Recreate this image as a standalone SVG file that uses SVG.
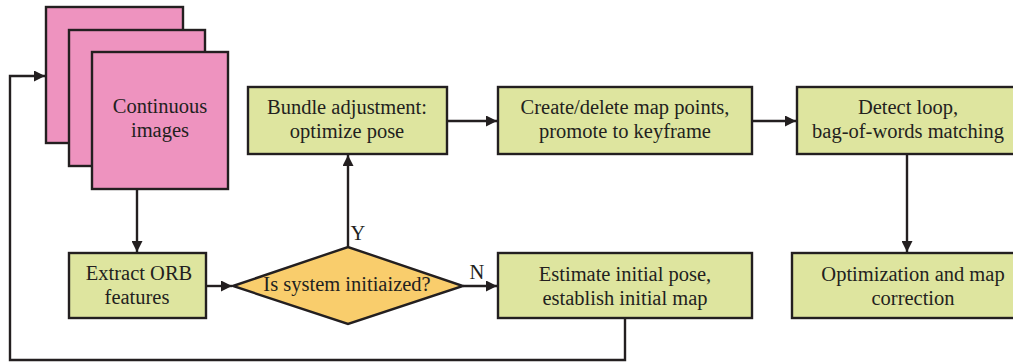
<svg xmlns="http://www.w3.org/2000/svg" width="1013" height="362" viewBox="0 0 1013 362">
<style>
.box{stroke:#231f20;stroke-width:2.4}
.pink{fill:#ee93bf}
.green{fill:#dee59f}
.orange{fill:#f9cd6c}
.t{font-family:"Liberation Serif","Times New Roman",serif;font-size:20.5px;fill:#231f20;text-anchor:middle}
.c{fill:none;stroke:#231f20;stroke-width:2.4}
</style>
<defs>
<marker id="ah" viewBox="0 0 10 10" refX="10" refY="5" markerWidth="11" markerHeight="11" markerUnits="userSpaceOnUse" orient="auto">
<path d="M0,0 L10,5 L0,10 z" fill="#231f20"/>
</marker>
</defs>
<rect width="1013" height="362" fill="#fff"/>
<g id="connectors">
<path class="c" d="M625,318 V360 H10 V76 H45" marker-end="url(#ah)"/>
<path class="c" d="M137,189 V252" marker-end="url(#ah)"/>
<path class="c" d="M206,286 H232" marker-end="url(#ah)"/>
<path class="c" d="M348,247 V155" marker-end="url(#ah)"/>
<path class="c" d="M463,286 H497" marker-end="url(#ah)"/>
<path class="c" d="M447,121 H497" marker-end="url(#ah)"/>
<path class="c" d="M752,121 H796" marker-end="url(#ah)"/>
<path class="c" d="M907,154 V252" marker-end="url(#ah)"/>
<text class="t" x="358" y="240">Y</text>
<text class="t" x="477" y="279">N</text>
</g>
<g id="images">
<rect class="box pink" x="46" y="7" width="137" height="136"/>
<rect class="box pink" x="69" y="30" width="136" height="136"/>
<rect class="box pink" x="92" y="52" width="136" height="137"/>
<text class="t" x="160" y="113">Continuous</text>
<text class="t" x="160" y="137">images</text>
</g>
<g id="bundle">
<rect class="box green" x="248" y="87" width="199" height="67"/>
<text class="t" x="347" y="114">Bundle adjustment:</text>
<text class="t" x="347" y="138">optimize pose</text>
</g>
<g id="create">
<rect class="box green" x="498" y="87" width="254" height="67"/>
<text class="t" x="625" y="114">Create/delete map points,</text>
<text class="t" x="625" y="138">promote to keyframe</text>
</g>
<g id="detect">
<rect class="box green" x="797" y="87" width="224" height="67"/>
<text class="t" x="908" y="114">Detect loop,</text>
<text class="t" x="908" y="138">bag-of-words matching</text>
</g>
<g id="extract">
<rect class="box green" x="69" y="253" width="137" height="65"/>
<text class="t" x="139" y="280">Extract ORB</text>
<text class="t" x="137" y="304">features</text>
</g>
<g id="decision">
<polygon class="box orange" points="233,286 348,247 463,286 348,324"/>
<text class="t" x="347" y="291">Is system initiaized?</text>
</g>
<g id="estimate">
<rect class="box green" x="498" y="253" width="254" height="65"/>
<text class="t" x="625" y="281">Estimate initial pose,</text>
<text class="t" x="625" y="305">establish initial map</text>
</g>
<g id="optimization">
<rect class="box green" x="792" y="253" width="230" height="65"/>
<text class="t" x="913" y="281">Optimization and map</text>
<text class="t" x="913" y="305">correction</text>
</g>
</svg>
